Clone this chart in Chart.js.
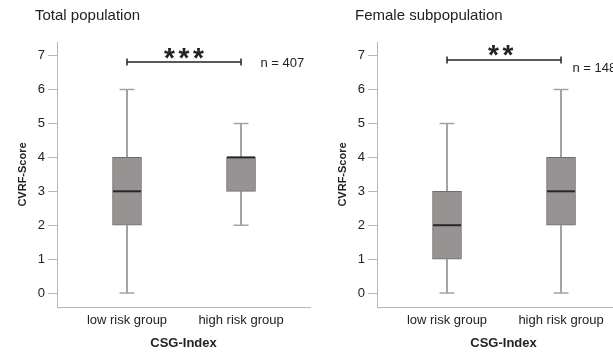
<!DOCTYPE html>
<html>
<head>
<meta charset="utf-8">
<script src="https://cdn.jsdelivr.net/npm/chart.js@4"></script>
<style>
html, body { margin: 0; padding: 0; background: #fff; }
#wrap { position: relative; width: 613px; height: 352px; overflow: hidden; }
canvas { position: absolute; top: 0; }
</style>
</head>
<body>
<div id="wrap">
  <canvas id="totalChart" width="320" height="352" style="left:0"></canvas>
  <canvas id="femaleChart" width="320" height="352" style="left:320px"></canvas>
</div>
<script>
const groups = ['low risk group', 'high risk group'];
const yTicks = [0, 1, 2, 3, 4, 5, 6, 7];

// Total population
const totalMin = [0, 2];
const totalQ1 = [2, 3];
const totalMedian = [3, 4];
const totalQ3 = [4, 4];
const totalMax = [6, 5];

// Female subpopulation
const femaleMin = [0, 0];
const femaleQ1 = [1, 2];
const femaleMedian = [2, 3];
const femaleQ3 = [3, 4];
const femaleMax = [5, 6];

Chart.defaults.font.family = "'Liberation Sans', Arial, sans-serif";
Chart.defaults.color = '#222';

const axisGrey = '#b8b8b8';

// whiskers, caps and medians drawn from the chart scales
const boxPlotPlugin = {
    id: 'boxPlot',
    beforeDatasetsDraw(chart, args, opts) {
        const { ctx, scales: { x, y } } = chart;
        ctx.save();
        ctx.strokeStyle = '#a3a3a3';
        groups.forEach((g, i) => {
            const cx = x.getPixelForValue(i);
            ctx.lineWidth = 2;
            ctx.beginPath();
            ctx.moveTo(cx, y.getPixelForValue(opts.q3[i]));
            ctx.lineTo(cx, y.getPixelForValue(opts.max[i]));
            ctx.moveTo(cx, y.getPixelForValue(opts.q1[i]));
            ctx.lineTo(cx, y.getPixelForValue(opts.min[i]));
            ctx.stroke();
            ctx.lineWidth = 1.5;
            ctx.beginPath();
            ctx.moveTo(cx - 7.5, y.getPixelForValue(opts.max[i]));
            ctx.lineTo(cx + 7.5, y.getPixelForValue(opts.max[i]));
            ctx.moveTo(cx - 7.5, y.getPixelForValue(opts.min[i]));
            ctx.lineTo(cx + 7.5, y.getPixelForValue(opts.min[i]));
            ctx.stroke();
        });
        ctx.restore();
    },
    afterDatasetsDraw(chart, args, opts) {
        const { ctx, scales: { x, y } } = chart;
        ctx.save();
        ctx.strokeStyle = '#262626';
        ctx.lineWidth = 2;
        groups.forEach((g, i) => {
            const cx = x.getPixelForValue(i);
            const my = y.getPixelForValue(opts.median[i]);
            ctx.beginPath();
            ctx.moveTo(cx - 14, my);
            ctx.lineTo(cx + 14, my);
            ctx.stroke();
        });
        ctx.restore();
    }
};

// panel title, significance bracket and n label
const notesPlugin = {
    id: 'notes',
    afterDraw(chart, args, opts) {
        const { ctx, chartArea, scales: { x, y } } = chart;
        ctx.save();
        ctx.fillStyle = '#222';
        ctx.font = "15px 'Liberation Sans', Arial, sans-serif";
        ctx.textBaseline = 'middle';
        ctx.textAlign = 'left';
        ctx.fillText(opts.title, chartArea.left - 22, 16);

        const x0 = x.getPixelForValue(0), x1 = x.getPixelForValue(1);
        const by = y.getPixelForValue(opts.bracket);
        ctx.strokeStyle = '#222';
        ctx.lineWidth = 1.5;
        ctx.beginPath();
        ctx.moveTo(x0, by); ctx.lineTo(x1, by);
        ctx.moveTo(x0, by - 3.5); ctx.lineTo(x0, by + 3.5);
        ctx.moveTo(x1, by - 3.5); ctx.lineTo(x1, by + 3.5);
        ctx.stroke();

        ctx.font = "bold 28px 'Liberation Sans', Arial, sans-serif";
        ctx.textAlign = 'center';
        ctx.textBaseline = 'alphabetic';
        const m = ctx.measureText('*');
        const sy = y.getPixelForValue(opts.starY) + (m.actualBoundingBoxAscent - m.actualBoundingBoxDescent) / 2;
        const sx = x.getPixelForValue(opts.starX);
        const n = opts.stars.length;
        for (let k = 0; k < n; k++) {
            ctx.fillText('*', sx + (k - (n - 1) / 2) * 14.5, sy);
        }

        ctx.font = "13px 'Liberation Sans', Arial, sans-serif";
        ctx.textAlign = 'left';
        ctx.textBaseline = 'middle';
        ctx.fillText(opts.nText, x.getPixelForValue(opts.nX), y.getPixelForValue(opts.nY));
        ctx.restore();
    }
};

function makeChart(id, title, mins, q1s, medians, q3s, maxs, notes) {
    return new Chart(document.getElementById(id), {
        type: 'bar',
        data: {
            datasets: [{
                data: groups.map((g, i) => ({ x: i, y: [q1s[i], q3s[i]] })),
                backgroundColor: '#979392',
                borderColor: '#6e6e6e',
                borderWidth: 1,
                borderSkipped: false,
                barThickness: 29
            }]
        },
        options: {
            responsive: false,
            animation: false,
            layout: { padding: { top: 42, right: 10, left: 0, bottom: 0 } },
            plugins: {
                legend: { display: false },
                tooltip: { enabled: false },
                boxPlot: { min: mins, q1: q1s, median: medians, q3: q3s, max: maxs },
                notes: Object.assign({ title: title }, notes)
            },
            scales: {
                x: {
                    type: 'linear',
                    min: -0.614,
                    max: 1.605,
                    offset: false,
                    afterBuildTicks: (s) => { s.ticks = groups.map((g, i) => ({ value: i })); },
                    afterFit: (s) => { s.height = 45; },
                    ticks: {
                        callback: (v) => groups[v],
                        autoSkip: false,
                        maxRotation: 0,
                        padding: 6,
                        color: '#222',
                        font: { size: 13 }
                    },
                    grid: { display: false, drawTicks: false, offset: false },
                    border: { color: axisGrey, width: 1 },
                    title: {
                        display: true,
                        text: 'CSG-Index',
                        color: '#222',
                        font: { size: 13, weight: 'bold' },
                        padding: { top: 4, bottom: 1 }
                    }
                },
                y: {
                    type: 'linear',
                    min: -0.41,
                    max: 7.4,
                    afterBuildTicks: (s) => { s.ticks = yTicks.map(v => ({ value: v })); },
                    afterFit: (s) => { s.width = 57; },
                    ticks: { padding: 3, color: '#222', font: { size: 13 } },
                    grid: { drawOnChartArea: false, drawTicks: true, tickLength: 9, color: axisGrey },
                    border: { color: axisGrey, width: 1 },
                    title: {
                        display: true,
                        text: 'CVRF-Score',
                        color: '#222',
                        font: { size: 11, weight: 'bold' },
                        padding: { top: 16, bottom: 0 }
                    }
                }
            }
        },
        plugins: [boxPlotPlugin, notesPlugin]
    });
}

makeChart('totalChart', 'Total population', totalMin, totalQ1, totalMedian, totalQ3, totalMax,
    { stars: '***', starX: 0.5, starY: 7.07, bracket: 6.81, nText: 'n = 407', nX: 1.17, nY: 6.78 });

makeChart('femaleChart', 'Female subpopulation', femaleMin, femaleQ1, femaleMedian, femaleQ3, femaleMax,
    { stars: '**', starX: 0.47, starY: 7.14, bracket: 6.87, nText: 'n = 148', nX: 1.1, nY: 6.63 });
</script>
</body>
</html>
